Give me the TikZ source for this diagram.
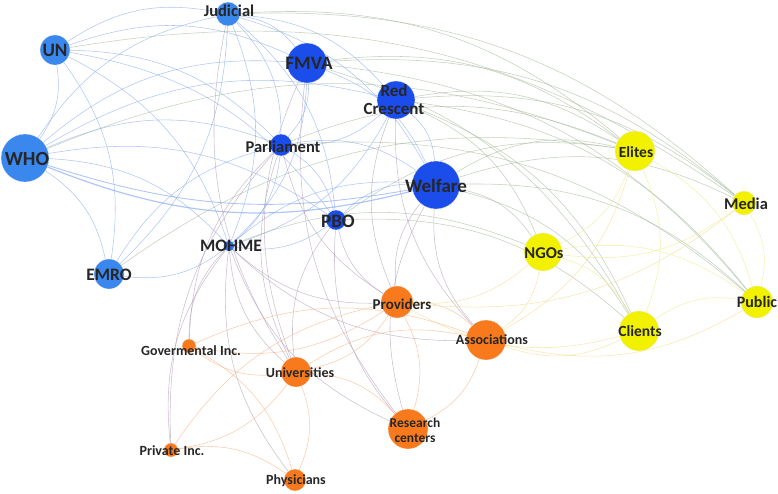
\documentclass[tikz,border=0pt]{standalone}
\usepackage{fontspec}
\setmainfont{Carlito}
\usetikzlibrary{backgrounds}
\definecolor{lblue}{HTML}{3A87EE}
\definecolor{dblue}{HTML}{1B4DEA}
\definecolor{mblue}{HTML}{2F6DEE}
\definecolor{orng}{HTML}{F97A1C}
\definecolor{yell}{HTML}{F2F200}
\definecolor{ebb}{HTML}{85A8F2}
\definecolor{eby}{HTML}{A3B89A}
\definecolor{ebo}{HTML}{B09CB6}
\definecolor{eoo}{HTML}{F8B080}
\definecolor{eoy}{HTML}{F7D884}
\definecolor{eyy}{HTML}{EBEB80}
\tikzset{
  vert/.style={circle, inner sep=0pt, draw=white!85!gray, line width=0.3pt},
  lb/.style={vert, fill=lblue},
  db/.style={vert, fill=dblue},
  mb/.style={vert, fill=mblue},
  og/.style={vert, fill=orng},
  yl/.style={vert, fill=yell},
  lab/.style={text=black!85, inner sep=0pt, align=center},
  edge/.style={line width=0.55pt, opacity=0.65},
  bb/.style={edge, draw=ebb},
  by/.style={edge, draw=eby},
  bo/.style={edge, draw=ebo},
  oo/.style={edge, draw=eoo},
  oy/.style={edge, draw=eoy},
  yy/.style={edge, draw=eyy},
}
\newcommand{\fs}[2]{\bfseries\fontsize{#1}{#2}\selectfont}
\begin{document}
\begin{tikzpicture}[x=1pt,y=-1pt]
\useasboundingbox (0,0) rectangle (778,493);
% nodes
\node[lb, minimum size=24pt] (jud) at (228,14) {};
\node[lb, minimum size=30pt] (un) at (55,50) {};
\node[db, minimum size=40pt] (fmva) at (307,63) {};
\node[db, minimum size=38pt] (rc) at (396,100) {};
\node[lb, minimum size=48pt] (who) at (25,158) {};
\node[db, minimum size=22pt] (parl) at (281,145) {};
\node[db, minimum size=48pt] (welf) at (436,185) {};
\node[db, minimum size=20pt] (pbo) at (336,220) {};
\node[mb, minimum size=11pt] (moh) at (229,246) {};
\node[lb, minimum size=30pt] (emro) at (109,274) {};
\node[yl, minimum size=40pt] (eli) at (635,151) {};
\node[yl, minimum size=24pt] (med) at (744,203) {};
\node[yl, minimum size=38pt] (ngo) at (543,252) {};
\node[yl, minimum size=32pt] (pub) at (757,302) {};
\node[yl, minimum size=40pt] (cli) at (639,331) {};
\node[og, minimum size=32pt] (prov) at (397,302) {};
\node[og, minimum size=40pt] (assoc) at (486,340) {};
\node[og, minimum size=14pt] (gov) at (189,346) {};
\node[og, minimum size=30pt] (univ) at (296,372) {};
\node[og, minimum size=40pt] (res) at (408,429) {};
\node[og, minimum size=14pt] (priv) at (171,450) {};
\node[og, minimum size=22pt] (phys) at (295,480) {};
% labels
\node[lab, font=\fs{16.5}{17}] at (229,11) {Judicial};
\node[lab, font=\fs{19}{20}] at (55,50) {UN};
\node[lab, font=\fs{19}{20}] at (309,63) {FMVA};
\node[lab, font=\fs{17}{18}] at (394,100) {Red\\Crescent};
\node[lab, font=\fs{20}{21}] at (27,159) {WHO};
\node[lab, font=\fs{16.5}{17}] at (283,147) {Parliament};
\node[lab, font=\fs{19}{20}] at (436,186) {Welfare};
\node[lab, font=\fs{19}{20}] at (338,221) {PBO};
\node[lab, font=\fs{17.5}{18}] at (231,246) {MOHME};
\node[lab, font=\fs{17.5}{18}] at (109,275) {EMRO};
\node[lab, font=\fs{15.5}{16}] at (636,152) {Elites};
\node[lab, font=\fs{16.5}{17}] at (746,204) {Media};
\node[lab, font=\fs{16.5}{17}] at (544,253) {NGOs};
\node[lab, font=\fs{16}{17}] at (757,302) {Public};
\node[lab, font=\fs{15.5}{16}] at (640,331) {Clients};
\node[lab, font=\fs{15}{16}] at (402,304) {Providers};
\node[lab, font=\fs{14}{15}] at (492,340) {Associations};
\node[lab, font=\fs{14}{15}] at (191,351) {Govermental Inc.};
\node[lab, font=\fs{14}{15}] at (300,373) {Universities};
\node[lab, font=\fs{13.5}{15}] at (415,430) {Research\\centers};
\node[lab, font=\fs{14}{15}] at (172,451) {Private Inc.};
\node[lab, font=\fs{14}{15}] at (296,481) {Physicians};
% edges
\begin{pgfonlayer}{background}
\foreach \a/\b in {un/jud, un/who, un/parl, un/fmva, un/moh, un/pbo, who/jud, who/parl, who/moh, who/emro, who/rc, who/fmva, who/pbo, jud/parl, jud/fmva, jud/rc, jud/moh, jud/welf, jud/pbo, jud/emro, fmva/parl, fmva/moh, fmva/welf, rc/parl, rc/moh, rc/welf, parl/welf, parl/moh, parl/pbo, pbo/welf, pbo/moh, moh/emro, moh/welf, un/emro, emro/parl}
  \draw[bb] (\a) to[bend left=22] (\b);
\draw[bb, line width=1.2pt] (who) to[bend right=18] (welf);
\draw[bb, line width=0.9pt] (who) to[bend right=14] (welf);
\foreach \a/\b in {jud/eli, jud/med, fmva/eli, fmva/med, fmva/pub, rc/eli, rc/pub, rc/cli, rc/ngo, welf/eli, welf/pub, welf/cli, welf/ngo, parl/eli, parl/pub, who/eli, un/med, pbo/cli, pbo/eli, moh/ngo, emro/eli, fmva/cli, rc/med, welf/med}
  \draw[by] (\a) to[bend left=22] (\b);
\foreach \a/\b in {moh/gov, moh/priv, moh/univ, moh/prov, moh/assoc, moh/res, moh/phys, parl/prov, parl/univ, parl/priv, fmva/res, fmva/univ, pbo/univ, pbo/res, pbo/prov, welf/assoc, welf/prov, welf/res, rc/assoc, rc/prov, jud/univ, parl/gov}
  \draw[bo] (\a) to[bend right=22] (\b);
\foreach \a/\b in {prov/assoc, prov/univ, prov/res, prov/gov, univ/gov, univ/priv, univ/phys, univ/res, univ/assoc, gov/phys, priv/phys, priv/prov, assoc/res, gov/assoc}
  \draw[oo] (\a) to[bend left=22] (\b);
\foreach \a/\b in {assoc/cli, assoc/pub, assoc/ngo, prov/cli, prov/ngo, prov/med, assoc/eli}
  \draw[oy] (\a) to[bend right=22] (\b);
\foreach \a/\b in {eli/cli, eli/pub, eli/ngo, med/pub, med/ngo, ngo/cli, ngo/pub, cli/pub}
  \draw[yy] (\a) to[bend left=22] (\b);
\end{pgfonlayer}
\end{tikzpicture}
\end{document}
